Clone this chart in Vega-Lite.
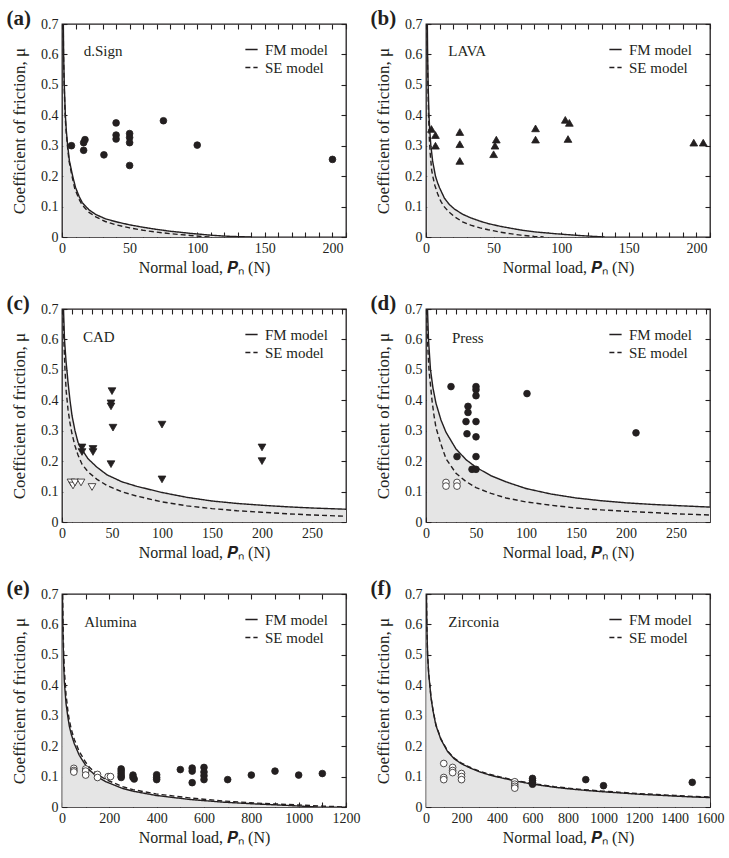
{
"$schema":"https://vega.github.io/schema/vega-lite/v6.json",
"padding":{"left":5,"top":7,"right":5,"bottom":5},
"datasets":{
"curves":[
{"p":"a","m":"FM model","x":0.9,"y":0.75},{"p":"a","m":"FM model","x":1.2,"y":0.6},{"p":"a","m":"FM model","x":1.7,"y":0.5},{"p":"a","m":"FM model","x":2.5,"y":0.4},{"p":"a","m":"FM model","x":3.2,"y":0.35},{"p":"a","m":"FM model","x":4.2,"y":0.3},{"p":"a","m":"FM model","x":5.5,"y":0.25},{"p":"a","m":"FM model","x":7.9,"y":0.2},{"p":"a","m":"FM model","x":10,"y":0.163},{"p":"a","m":"FM model","x":12.8,"y":0.132},{"p":"a","m":"FM model","x":15,"y":0.113},{"p":"a","m":"FM model","x":20,"y":0.089},{"p":"a","m":"FM model","x":25,"y":0.074},{"p":"a","m":"FM model","x":32,"y":0.06},{"p":"a","m":"FM model","x":40,"y":0.05},{"p":"a","m":"FM model","x":50,"y":0.04},{"p":"a","m":"FM model","x":60,"y":0.032},{"p":"a","m":"FM model","x":70,"y":0.025},{"p":"a","m":"FM model","x":80,"y":0.019},{"p":"a","m":"FM model","x":95,"y":0.012},{"p":"a","m":"FM model","x":110,"y":0.006},{"p":"a","m":"FM model","x":120,"y":0.003},{"p":"a","m":"FM model","x":131,"y":0.001},{"p":"a","m":"FM model","x":140,"y":0},
{"p":"a","m":"SE model","x":0.8,"y":0.75},{"p":"a","m":"SE model","x":1.1,"y":0.6},{"p":"a","m":"SE model","x":1.6,"y":0.5},{"p":"a","m":"SE model","x":2.3,"y":0.4},{"p":"a","m":"SE model","x":3,"y":0.35},{"p":"a","m":"SE model","x":4,"y":0.3},{"p":"a","m":"SE model","x":5.2,"y":0.25},{"p":"a","m":"SE model","x":7.4,"y":0.2},{"p":"a","m":"SE model","x":9.5,"y":0.158},{"p":"a","m":"SE model","x":12.8,"y":0.123},{"p":"a","m":"SE model","x":15,"y":0.105},{"p":"a","m":"SE model","x":20,"y":0.081},{"p":"a","m":"SE model","x":25,"y":0.066},{"p":"a","m":"SE model","x":32,"y":0.051},{"p":"a","m":"SE model","x":40,"y":0.04},{"p":"a","m":"SE model","x":50,"y":0.03},{"p":"a","m":"SE model","x":60,"y":0.022},{"p":"a","m":"SE model","x":70,"y":0.016},{"p":"a","m":"SE model","x":80,"y":0.011},{"p":"a","m":"SE model","x":95,"y":0.005},{"p":"a","m":"SE model","x":105,"y":0.001},{"p":"a","m":"SE model","x":110,"y":0},
{"p":"b","m":"FM model","x":0.9,"y":0.75},{"p":"b","m":"FM model","x":1.2,"y":0.6},{"p":"b","m":"FM model","x":1.6,"y":0.5},{"p":"b","m":"FM model","x":2.2,"y":0.4},{"p":"b","m":"FM model","x":2.8,"y":0.35},{"p":"b","m":"FM model","x":3.6,"y":0.3},{"p":"b","m":"FM model","x":4.9,"y":0.25},{"p":"b","m":"FM model","x":7,"y":0.2},{"p":"b","m":"FM model","x":8.6,"y":0.178},{"p":"b","m":"FM model","x":10,"y":0.162},{"p":"b","m":"FM model","x":13.6,"y":0.128},{"p":"b","m":"FM model","x":17,"y":0.108},{"p":"b","m":"FM model","x":21,"y":0.092},{"p":"b","m":"FM model","x":27,"y":0.075},{"p":"b","m":"FM model","x":33,"y":0.063},{"p":"b","m":"FM model","x":40,"y":0.052},{"p":"b","m":"FM model","x":46,"y":0.044},{"p":"b","m":"FM model","x":55,"y":0.035},{"p":"b","m":"FM model","x":70,"y":0.023},{"p":"b","m":"FM model","x":80,"y":0.017},{"p":"b","m":"FM model","x":95,"y":0.011},{"p":"b","m":"FM model","x":110,"y":0.006},{"p":"b","m":"FM model","x":120,"y":0.003},{"p":"b","m":"FM model","x":132,"y":0},
{"p":"b","m":"SE model","x":0.8,"y":0.75},{"p":"b","m":"SE model","x":1,"y":0.6},{"p":"b","m":"SE model","x":1.4,"y":0.5},{"p":"b","m":"SE model","x":1.9,"y":0.4},{"p":"b","m":"SE model","x":2.4,"y":0.33},{"p":"b","m":"SE model","x":3,"y":0.28},{"p":"b","m":"SE model","x":4.2,"y":0.22},{"p":"b","m":"SE model","x":5,"y":0.2},{"p":"b","m":"SE model","x":6.5,"y":0.17},{"p":"b","m":"SE model","x":8.6,"y":0.142},{"p":"b","m":"SE model","x":11,"y":0.117},{"p":"b","m":"SE model","x":13.6,"y":0.099},{"p":"b","m":"SE model","x":17,"y":0.082},{"p":"b","m":"SE model","x":21,"y":0.067},{"p":"b","m":"SE model","x":27,"y":0.05},{"p":"b","m":"SE model","x":33,"y":0.039},{"p":"b","m":"SE model","x":40,"y":0.03},{"p":"b","m":"SE model","x":46,"y":0.024},{"p":"b","m":"SE model","x":55,"y":0.016},{"p":"b","m":"SE model","x":62,"y":0.011},{"p":"b","m":"SE model","x":70,"y":0.006},{"p":"b","m":"SE model","x":80,"y":0.002},{"p":"b","m":"SE model","x":87,"y":0},
{"p":"c","m":"FM model","x":1.3,"y":0.75},{"p":"c","m":"FM model","x":1.5,"y":0.7},{"p":"c","m":"FM model","x":2.5,"y":0.6},{"p":"c","m":"FM model","x":4,"y":0.53},{"p":"c","m":"FM model","x":6,"y":0.46},{"p":"c","m":"FM model","x":8,"y":0.4},{"p":"c","m":"FM model","x":10,"y":0.35},{"p":"c","m":"FM model","x":13,"y":0.3},{"p":"c","m":"FM model","x":16,"y":0.262},{"p":"c","m":"FM model","x":20,"y":0.238},{"p":"c","m":"FM model","x":26,"y":0.208},{"p":"c","m":"FM model","x":35,"y":0.18},{"p":"c","m":"FM model","x":45,"y":0.155},{"p":"c","m":"FM model","x":60,"y":0.132},{"p":"c","m":"FM model","x":75,"y":0.117},{"p":"c","m":"FM model","x":100,"y":0.097},{"p":"c","m":"FM model","x":125,"y":0.081},{"p":"c","m":"FM model","x":150,"y":0.069},{"p":"c","m":"FM model","x":175,"y":0.061},{"p":"c","m":"FM model","x":200,"y":0.055},{"p":"c","m":"FM model","x":225,"y":0.05},{"p":"c","m":"FM model","x":250,"y":0.046},{"p":"c","m":"FM model","x":284,"y":0.042},
{"p":"c","m":"SE model","x":0.7,"y":0.75},{"p":"c","m":"SE model","x":1,"y":0.7},{"p":"c","m":"SE model","x":1.8,"y":0.6},{"p":"c","m":"SE model","x":3,"y":0.5},{"p":"c","m":"SE model","x":4.2,"y":0.43},{"p":"c","m":"SE model","x":6,"y":0.37},{"p":"c","m":"SE model","x":8,"y":0.325},{"p":"c","m":"SE model","x":10,"y":0.29},{"p":"c","m":"SE model","x":13,"y":0.25},{"p":"c","m":"SE model","x":16,"y":0.22},{"p":"c","m":"SE model","x":20,"y":0.19},{"p":"c","m":"SE model","x":26,"y":0.165},{"p":"c","m":"SE model","x":35,"y":0.14},{"p":"c","m":"SE model","x":45,"y":0.12},{"p":"c","m":"SE model","x":60,"y":0.099},{"p":"c","m":"SE model","x":75,"y":0.085},{"p":"c","m":"SE model","x":100,"y":0.066},{"p":"c","m":"SE model","x":125,"y":0.053},{"p":"c","m":"SE model","x":150,"y":0.044},{"p":"c","m":"SE model","x":175,"y":0.037},{"p":"c","m":"SE model","x":200,"y":0.032},{"p":"c","m":"SE model","x":225,"y":0.027},{"p":"c","m":"SE model","x":250,"y":0.023},{"p":"c","m":"SE model","x":284,"y":0.019},
{"p":"d","m":"FM model","x":1,"y":0.75},{"p":"d","m":"FM model","x":1.5,"y":0.7},{"p":"d","m":"FM model","x":2.5,"y":0.6},{"p":"d","m":"FM model","x":3.5,"y":0.55},{"p":"d","m":"FM model","x":4.5,"y":0.5},{"p":"d","m":"FM model","x":7,"y":0.44},{"p":"d","m":"FM model","x":10,"y":0.39},{"p":"d","m":"FM model","x":15,"y":0.335},{"p":"d","m":"FM model","x":20,"y":0.295},{"p":"d","m":"FM model","x":30,"y":0.24},{"p":"d","m":"FM model","x":40,"y":0.205},{"p":"d","m":"FM model","x":50,"y":0.18},{"p":"d","m":"FM model","x":65,"y":0.152},{"p":"d","m":"FM model","x":80,"y":0.132},{"p":"d","m":"FM model","x":100,"y":0.11},{"p":"d","m":"FM model","x":125,"y":0.092},{"p":"d","m":"FM model","x":150,"y":0.079},{"p":"d","m":"FM model","x":175,"y":0.07},{"p":"d","m":"FM model","x":200,"y":0.063},{"p":"d","m":"FM model","x":225,"y":0.058},{"p":"d","m":"FM model","x":250,"y":0.054},{"p":"d","m":"FM model","x":284,"y":0.049},
{"p":"d","m":"SE model","x":0.6,"y":0.75},{"p":"d","m":"SE model","x":0.8,"y":0.7},{"p":"d","m":"SE model","x":1.2,"y":0.62},{"p":"d","m":"SE model","x":2,"y":0.56},{"p":"d","m":"SE model","x":3,"y":0.5},{"p":"d","m":"SE model","x":4.5,"y":0.45},{"p":"d","m":"SE model","x":6,"y":0.4},{"p":"d","m":"SE model","x":8,"y":0.35},{"p":"d","m":"SE model","x":10,"y":0.31},{"p":"d","m":"SE model","x":15,"y":0.255},{"p":"d","m":"SE model","x":20,"y":0.208},{"p":"d","m":"SE model","x":30,"y":0.16},{"p":"d","m":"SE model","x":40,"y":0.133},{"p":"d","m":"SE model","x":50,"y":0.113},{"p":"d","m":"SE model","x":65,"y":0.094},{"p":"d","m":"SE model","x":80,"y":0.079},{"p":"d","m":"SE model","x":100,"y":0.066},{"p":"d","m":"SE model","x":125,"y":0.055},{"p":"d","m":"SE model","x":150,"y":0.046},{"p":"d","m":"SE model","x":175,"y":0.04},{"p":"d","m":"SE model","x":200,"y":0.035},{"p":"d","m":"SE model","x":225,"y":0.031},{"p":"d","m":"SE model","x":250,"y":0.027},{"p":"d","m":"SE model","x":284,"y":0.023},
{"p":"e","m":"FM model","x":1.5,"y":0.75},{"p":"e","m":"FM model","x":2,"y":0.7},{"p":"e","m":"FM model","x":4,"y":0.57},{"p":"e","m":"FM model","x":7,"y":0.47},{"p":"e","m":"FM model","x":10,"y":0.41},{"p":"e","m":"FM model","x":17,"y":0.34},{"p":"e","m":"FM model","x":25,"y":0.295},{"p":"e","m":"FM model","x":31,"y":0.265},{"p":"e","m":"FM model","x":40,"y":0.237},{"p":"e","m":"FM model","x":52,"y":0.208},{"p":"e","m":"FM model","x":73,"y":0.17},{"p":"e","m":"FM model","x":100,"y":0.137},{"p":"e","m":"FM model","x":115,"y":0.122},{"p":"e","m":"FM model","x":150,"y":0.099},{"p":"e","m":"FM model","x":186,"y":0.083},{"p":"e","m":"FM model","x":256,"y":0.061},{"p":"e","m":"FM model","x":300,"y":0.052},{"p":"e","m":"FM model","x":397,"y":0.038},{"p":"e","m":"FM model","x":537,"y":0.025},{"p":"e","m":"FM model","x":678,"y":0.016},{"p":"e","m":"FM model","x":819,"y":0.01},{"p":"e","m":"FM model","x":959,"y":0.005},{"p":"e","m":"FM model","x":1030,"y":0.002},{"p":"e","m":"FM model","x":1080,"y":0},
{"p":"e","m":"SE model","x":1.5,"y":0.75},{"p":"e","m":"SE model","x":2.5,"y":0.7},{"p":"e","m":"SE model","x":4.5,"y":0.6},{"p":"e","m":"SE model","x":7,"y":0.51},{"p":"e","m":"SE model","x":10,"y":0.45},{"p":"e","m":"SE model","x":17,"y":0.37},{"p":"e","m":"SE model","x":25,"y":0.315},{"p":"e","m":"SE model","x":31,"y":0.285},{"p":"e","m":"SE model","x":40,"y":0.253},{"p":"e","m":"SE model","x":52,"y":0.222},{"p":"e","m":"SE model","x":73,"y":0.182},{"p":"e","m":"SE model","x":100,"y":0.147},{"p":"e","m":"SE model","x":115,"y":0.131},{"p":"e","m":"SE model","x":150,"y":0.107},{"p":"e","m":"SE model","x":186,"y":0.09},{"p":"e","m":"SE model","x":256,"y":0.067},{"p":"e","m":"SE model","x":300,"y":0.057},{"p":"e","m":"SE model","x":397,"y":0.043},{"p":"e","m":"SE model","x":537,"y":0.03},{"p":"e","m":"SE model","x":678,"y":0.02},{"p":"e","m":"SE model","x":819,"y":0.013},{"p":"e","m":"SE model","x":959,"y":0.008},{"p":"e","m":"SE model","x":1100,"y":0.003},{"p":"e","m":"SE model","x":1200,"y":0},
{"p":"f","m":"FM model","x":1.5,"y":0.75},{"p":"f","m":"FM model","x":2.5,"y":0.7},{"p":"f","m":"FM model","x":5,"y":0.59},{"p":"f","m":"FM model","x":9,"y":0.5},{"p":"f","m":"FM model","x":15,"y":0.44},{"p":"f","m":"FM model","x":28,"y":0.36},{"p":"f","m":"FM model","x":40,"y":0.315},{"p":"f","m":"FM model","x":56,"y":0.268},{"p":"f","m":"FM model","x":84,"y":0.222},{"p":"f","m":"FM model","x":122,"y":0.182},{"p":"f","m":"FM model","x":160,"y":0.158},{"p":"f","m":"FM model","x":200,"y":0.142},{"p":"f","m":"FM model","x":253,"y":0.127},{"p":"f","m":"FM model","x":300,"y":0.116},{"p":"f","m":"FM model","x":348,"y":0.107},{"p":"f","m":"FM model","x":400,"y":0.099},{"p":"f","m":"FM model","x":500,"y":0.086},{"p":"f","m":"FM model","x":600,"y":0.075},{"p":"f","m":"FM model","x":723,"y":0.065},{"p":"f","m":"FM model","x":800,"y":0.06},{"p":"f","m":"FM model","x":911,"y":0.054},{"p":"f","m":"FM model","x":1000,"y":0.05},{"p":"f","m":"FM model","x":1100,"y":0.046},{"p":"f","m":"FM model","x":1200,"y":0.042},{"p":"f","m":"FM model","x":1300,"y":0.039},{"p":"f","m":"FM model","x":1400,"y":0.036},{"p":"f","m":"FM model","x":1500,"y":0.033},{"p":"f","m":"FM model","x":1600,"y":0.031},
{"p":"f","m":"SE model","x":1.5,"y":0.75},{"p":"f","m":"SE model","x":2.5,"y":0.7},{"p":"f","m":"SE model","x":5,"y":0.59},{"p":"f","m":"SE model","x":9,"y":0.5},{"p":"f","m":"SE model","x":15,"y":0.44},{"p":"f","m":"SE model","x":28,"y":0.362},{"p":"f","m":"SE model","x":40,"y":0.317},{"p":"f","m":"SE model","x":56,"y":0.27},{"p":"f","m":"SE model","x":84,"y":0.224},{"p":"f","m":"SE model","x":122,"y":0.184},{"p":"f","m":"SE model","x":160,"y":0.16},{"p":"f","m":"SE model","x":200,"y":0.144},{"p":"f","m":"SE model","x":253,"y":0.129},{"p":"f","m":"SE model","x":300,"y":0.118},{"p":"f","m":"SE model","x":348,"y":0.109},{"p":"f","m":"SE model","x":400,"y":0.101},{"p":"f","m":"SE model","x":500,"y":0.088},{"p":"f","m":"SE model","x":600,"y":0.077},{"p":"f","m":"SE model","x":723,"y":0.067},{"p":"f","m":"SE model","x":800,"y":0.062},{"p":"f","m":"SE model","x":911,"y":0.056},{"p":"f","m":"SE model","x":1000,"y":0.052},{"p":"f","m":"SE model","x":1100,"y":0.048},{"p":"f","m":"SE model","x":1200,"y":0.044},{"p":"f","m":"SE model","x":1300,"y":0.041},{"p":"f","m":"SE model","x":1400,"y":0.038},{"p":"f","m":"SE model","x":1500,"y":0.035},{"p":"f","m":"SE model","x":1600,"y":0.033}
],
"points":[
{"p":"a","k":"filled","x":7,"y":0.30},{"p":"a","k":"filled","x":16,"y":0.31},{"p":"a","k":"filled","x":17,"y":0.32},{"p":"a","k":"filled","x":16,"y":0.285},{"p":"a","k":"filled","x":31,"y":0.27},{"p":"a","k":"filled","x":40,"y":0.375},{"p":"a","k":"filled","x":40,"y":0.335},{"p":"a","k":"filled","x":40,"y":0.322},{"p":"a","k":"filled","x":50,"y":0.34},{"p":"a","k":"filled","x":50,"y":0.327},{"p":"a","k":"filled","x":50,"y":0.31},{"p":"a","k":"filled","x":50,"y":0.235},{"p":"a","k":"filled","x":75,"y":0.382},{"p":"a","k":"filled","x":100,"y":0.302},{"p":"a","k":"filled","x":200,"y":0.255},
{"p":"b","k":"filled","x":4,"y":0.355},{"p":"b","k":"filled","x":7,"y":0.335},{"p":"b","k":"filled","x":7,"y":0.30},{"p":"b","k":"filled","x":25,"y":0.345},{"p":"b","k":"filled","x":25,"y":0.305},{"p":"b","k":"filled","x":25,"y":0.25},{"p":"b","k":"filled","x":52,"y":0.32},{"p":"b","k":"filled","x":51,"y":0.30},{"p":"b","k":"filled","x":50,"y":0.272},{"p":"b","k":"filled","x":81,"y":0.357},{"p":"b","k":"filled","x":81,"y":0.32},{"p":"b","k":"filled","x":103,"y":0.385},{"p":"b","k":"filled","x":106,"y":0.375},{"p":"b","k":"filled","x":105,"y":0.322},{"p":"b","k":"filled","x":198,"y":0.31},{"p":"b","k":"filled","x":205,"y":0.31},
{"p":"c","k":"filled","x":20,"y":0.245},{"p":"c","k":"filled","x":20,"y":0.23},{"p":"c","k":"filled","x":31,"y":0.24},{"p":"c","k":"filled","x":31,"y":0.23},{"p":"c","k":"filled","x":50,"y":0.43},{"p":"c","k":"filled","x":49,"y":0.39},{"p":"c","k":"filled","x":49,"y":0.38},{"p":"c","k":"filled","x":51,"y":0.31},{"p":"c","k":"filled","x":49,"y":0.19},{"p":"c","k":"filled","x":100,"y":0.32},{"p":"c","k":"filled","x":100,"y":0.14},{"p":"c","k":"filled","x":200,"y":0.245},{"p":"c","k":"filled","x":200,"y":0.2},
{"p":"c","k":"open","x":9,"y":0.13},{"p":"c","k":"open","x":11,"y":0.12},{"p":"c","k":"open","x":13,"y":0.13},{"p":"c","k":"open","x":19,"y":0.13},{"p":"c","k":"open","x":30,"y":0.115},
{"p":"d","k":"filled","x":25,"y":0.445},{"p":"d","k":"filled","x":31,"y":0.215},{"p":"d","k":"filled","x":42,"y":0.38},{"p":"d","k":"filled","x":42,"y":0.36},{"p":"d","k":"filled","x":40,"y":0.33},{"p":"d","k":"filled","x":41,"y":0.29},{"p":"d","k":"filled","x":50,"y":0.445},{"p":"d","k":"filled","x":50,"y":0.435},{"p":"d","k":"filled","x":50,"y":0.415},{"p":"d","k":"filled","x":50,"y":0.33},{"p":"d","k":"filled","x":50,"y":0.28},{"p":"d","k":"filled","x":50,"y":0.215},{"p":"d","k":"filled","x":46,"y":0.173},{"p":"d","k":"filled","x":50,"y":0.173},{"p":"d","k":"filled","x":101,"y":0.422},{"p":"d","k":"filled","x":210,"y":0.293},
{"p":"d","k":"open","x":20,"y":0.13},{"p":"d","k":"open","x":20,"y":0.118},{"p":"d","k":"open","x":31,"y":0.13},{"p":"d","k":"open","x":31,"y":0.118},
{"p":"e","k":"filled","x":250,"y":0.125},{"p":"e","k":"filled","x":250,"y":0.118},{"p":"e","k":"filled","x":250,"y":0.11},{"p":"e","k":"filled","x":250,"y":0.102},{"p":"e","k":"filled","x":250,"y":0.097},{"p":"e","k":"filled","x":300,"y":0.105},{"p":"e","k":"filled","x":300,"y":0.097},{"p":"e","k":"filled","x":305,"y":0.092},{"p":"e","k":"filled","x":400,"y":0.106},{"p":"e","k":"filled","x":400,"y":0.097},{"p":"e","k":"filled","x":400,"y":0.09},{"p":"e","k":"filled","x":500,"y":0.123},{"p":"e","k":"filled","x":550,"y":0.128},{"p":"e","k":"filled","x":550,"y":0.118},{"p":"e","k":"filled","x":550,"y":0.08},{"p":"e","k":"filled","x":600,"y":0.13},{"p":"e","k":"filled","x":600,"y":0.115},{"p":"e","k":"filled","x":600,"y":0.103},{"p":"e","k":"filled","x":600,"y":0.09},{"p":"e","k":"filled","x":700,"y":0.09},{"p":"e","k":"filled","x":800,"y":0.105},{"p":"e","k":"filled","x":900,"y":0.118},{"p":"e","k":"filled","x":1000,"y":0.105},{"p":"e","k":"filled","x":1100,"y":0.11},
{"p":"e","k":"open","x":50,"y":0.127},{"p":"e","k":"open","x":50,"y":0.12},{"p":"e","k":"open","x":50,"y":0.115},{"p":"e","k":"open","x":100,"y":0.125},{"p":"e","k":"open","x":100,"y":0.118},{"p":"e","k":"open","x":100,"y":0.105},{"p":"e","k":"open","x":150,"y":0.107},{"p":"e","k":"open","x":150,"y":0.097},{"p":"e","k":"open","x":195,"y":0.1},{"p":"e","k":"open","x":205,"y":0.1},
{"p":"f","k":"open","x":100,"y":0.143},{"p":"f","k":"open","x":100,"y":0.097},{"p":"f","k":"open","x":100,"y":0.09},{"p":"f","k":"open","x":150,"y":0.13},{"p":"f","k":"open","x":150,"y":0.12},{"p":"f","k":"open","x":150,"y":0.113},{"p":"f","k":"open","x":200,"y":0.11},{"p":"f","k":"open","x":200,"y":0.1},{"p":"f","k":"open","x":200,"y":0.09},{"p":"f","k":"open","x":500,"y":0.083},{"p":"f","k":"open","x":500,"y":0.075},{"p":"f","k":"open","x":500,"y":0.068},{"p":"f","k":"open","x":500,"y":0.062},
{"p":"f","k":"filled","x":600,"y":0.094},{"p":"f","k":"filled","x":600,"y":0.087},{"p":"f","k":"filled","x":600,"y":0.08},{"p":"f","k":"filled","x":600,"y":0.075},{"p":"f","k":"filled","x":900,"y":0.09},{"p":"f","k":"filled","x":1000,"y":0.07},{"p":"f","k":"filled","x":1500,"y":0.081}
],
"labels":[
{"p":"a","x":16,"y":0.61,"t":"d.Sign"},{"p":"b","x":16.5,"y":0.61,"t":"LAVA"},{"p":"c","x":21,"y":0.607,"t":"CAD"},{"p":"d","x":26,"y":0.606,"t":"Press"},{"p":"e","x":94,"y":0.609,"t":"Alumina"},{"p":"f","x":126,"y":0.609,"t":"Zirconia"}
]
},
"config":{
"font":"Liberation Serif",
"view":{"stroke":"#231f20","strokeWidth":1.3},
"axis":{"grid":false,"domain":false,"tickColor":"#231f20","tickWidth":1.1,"tickSize":-5,"labelColor":"#231f20","titleColor":"#231f20","labelFontSize":14,"titleFontSize":17,"titleFontWeight":"normal","labelOverlap":false,"labelFlush":false,"labelPadding":9,"labelFont":"Liberation Serif","titleFont":"Liberation Serif"},
"axisBottom":{"titleFontSize":16},
"legend":{"orient":"top-right","offset":18,"symbolType":"stroke","symbolStrokeWidth":1.4,"symbolStrokeColor":"#231f20","symbolSize":150,"labelFontSize":15,"labelFont":"Liberation Serif","labelColor":"#231f20","rowPadding":2,"labelOffset":6,"padding":0},
"title":{"anchor":"start","frame":"bounds","fontSize":21,"fontWeight":"bold","color":"#231f20","font":"Liberation Serif","dy":16,"dx":-4}
},
"bounds":"flush",
"columns":2,
"spacing":{"row":72,"column":80},
"resolve":{"scale":{"strokeDash":"independent"},"legend":{"strokeDash":"independent"}},
"concat":[
{"width":284,"height":213,"title":{"text":"(a)"},
"layer":[
{"data":{"name":"curves"},"transform":[{"filter":"datum.p==='a' && datum.m==='FM model'"}],"mark":{"type":"area","color":"#e5e5e5","clip":true},
"encoding":{"x":{"field":"x","type":"quantitative","scale":{"domain":[0,210],"nice":false},"axis":{"orient":"bottom","values":[0,10,20,30,40,50,60,70,80,90,100,110,120,130,140,150,160,170,180,190,200,210],"labelExpr":"datum.value % 50 === 0 ? datum.label : ''","format":"d","title":"Normal load, 𝑷ₙ (N)","titlePadding":4}},
"y":{"field":"y","type":"quantitative","scale":{"domain":[0,0.7],"nice":false},"axis":{"orient":"left","values":[0,0.1,0.2,0.3,0.4,0.5,0.6,0.7],"labelExpr":"datum.value === 0 ? '0' : format(datum.value, '.1f')","title":"Coefficient of friction, μ","titlePadding":12}}}},
{"data":{"name":"curves"},"transform":[{"filter":"datum.p==='a'"}],"mark":{"type":"line","color":"#231f20","strokeWidth":1.4,"clip":true},
"encoding":{"x":{"field":"x","type":"quantitative","axis":{"orient":"top","values":[0,10,20,30,40,50,60,70,80,90,100,110,120,130,140,150,160,170,180,190,200,210],"labels":false,"title":null}},
"y":{"field":"y","type":"quantitative","axis":{"orient":"right","values":[0,0.1,0.2,0.3,0.4,0.5,0.6,0.7],"labels":false,"title":null}},
"strokeDash":{"field":"m","type":"nominal","scale":{"domain":["FM model","SE model"],"range":[[1,0],[5,3]]},"legend":{"title":null}}}},
{"data":{"name":"points"},"transform":[{"filter":"datum.p==='a'"}],"mark":{"type":"point","shape":"circle","filled":true,"size":45,"stroke":"#231f20","strokeWidth":0.8,"opacity":1},
"encoding":{"x":{"field":"x","type":"quantitative","axis":null},"y":{"field":"y","type":"quantitative","axis":null},"fill":{"field":"k","type":"nominal","scale":{"domain":["filled","open"],"range":["#231f20","#ffffff"]},"legend":null}}},
{"data":{"name":"labels"},"transform":[{"filter":"datum.p==='a'"}],"mark":{"type":"text","align":"left","baseline":"middle","fontSize":15,"color":"#231f20"},
"encoding":{"x":{"field":"x","type":"quantitative","axis":null},"y":{"field":"y","type":"quantitative","axis":null},"text":{"field":"t"}}}
]},
{"width":284,"height":213,"title":{"text":"(b)"},
"layer":[
{"data":{"name":"curves"},"transform":[{"filter":"datum.p==='b' && datum.m==='FM model'"}],"mark":{"type":"area","color":"#e5e5e5","clip":true},
"encoding":{"x":{"field":"x","type":"quantitative","scale":{"domain":[0,210],"nice":false},"axis":{"orient":"bottom","values":[0,10,20,30,40,50,60,70,80,90,100,110,120,130,140,150,160,170,180,190,200,210],"labelExpr":"datum.value % 50 === 0 ? datum.label : ''","format":"d","title":"Normal load, 𝑷ₙ (N)","titlePadding":4}},
"y":{"field":"y","type":"quantitative","scale":{"domain":[0,0.7],"nice":false},"axis":{"orient":"left","values":[0,0.1,0.2,0.3,0.4,0.5,0.6,0.7],"labelExpr":"datum.value === 0 ? '0' : format(datum.value, '.1f')","title":"Coefficient of friction, μ","titlePadding":12}}}},
{"data":{"name":"curves"},"transform":[{"filter":"datum.p==='b'"}],"mark":{"type":"line","color":"#231f20","strokeWidth":1.4,"clip":true},
"encoding":{"x":{"field":"x","type":"quantitative","axis":{"orient":"top","values":[0,10,20,30,40,50,60,70,80,90,100,110,120,130,140,150,160,170,180,190,200,210],"labels":false,"title":null}},
"y":{"field":"y","type":"quantitative","axis":{"orient":"right","values":[0,0.1,0.2,0.3,0.4,0.5,0.6,0.7],"labels":false,"title":null}},
"strokeDash":{"field":"m","type":"nominal","scale":{"domain":["FM model","SE model"],"range":[[1,0],[5,3]]},"legend":{"title":null}}}},
{"data":{"name":"points"},"transform":[{"filter":"datum.p==='b'"}],"mark":{"type":"point","shape":"triangle-up","filled":true,"size":60,"stroke":"#231f20","strokeWidth":0.8,"opacity":1},
"encoding":{"x":{"field":"x","type":"quantitative","axis":null},"y":{"field":"y","type":"quantitative","axis":null},"fill":{"field":"k","type":"nominal","scale":{"domain":["filled","open"],"range":["#231f20","#ffffff"]},"legend":null}}},
{"data":{"name":"labels"},"transform":[{"filter":"datum.p==='b'"}],"mark":{"type":"text","align":"left","baseline":"middle","fontSize":15,"color":"#231f20"},
"encoding":{"x":{"field":"x","type":"quantitative","axis":null},"y":{"field":"y","type":"quantitative","axis":null},"text":{"field":"t"}}}
]},
{"width":284,"height":213,"title":{"text":"(c)"},
"layer":[
{"data":{"name":"curves"},"transform":[{"filter":"datum.p==='c' && datum.m==='FM model'"}],"mark":{"type":"area","color":"#e5e5e5","clip":true},
"encoding":{"x":{"field":"x","type":"quantitative","scale":{"domain":[0,284],"nice":false},"axis":{"orient":"bottom","values":[0,10,20,30,40,50,60,70,80,90,100,110,120,130,140,150,160,170,180,190,200,210,220,230,240,250,260,270,280],"labelExpr":"datum.value % 50 === 0 ? datum.label : ''","format":"d","title":"Normal load, 𝑷ₙ (N)","titlePadding":4}},
"y":{"field":"y","type":"quantitative","scale":{"domain":[0,0.7],"nice":false},"axis":{"orient":"left","values":[0,0.1,0.2,0.3,0.4,0.5,0.6,0.7],"labelExpr":"datum.value === 0 ? '0' : format(datum.value, '.1f')","title":"Coefficient of friction, μ","titlePadding":12}}}},
{"data":{"name":"curves"},"transform":[{"filter":"datum.p==='c'"}],"mark":{"type":"line","color":"#231f20","strokeWidth":1.4,"clip":true},
"encoding":{"x":{"field":"x","type":"quantitative","axis":{"orient":"top","values":[0,10,20,30,40,50,60,70,80,90,100,110,120,130,140,150,160,170,180,190,200,210,220,230,240,250,260,270,280],"labels":false,"title":null}},
"y":{"field":"y","type":"quantitative","axis":{"orient":"right","values":[0,0.1,0.2,0.3,0.4,0.5,0.6,0.7],"labels":false,"title":null}},
"strokeDash":{"field":"m","type":"nominal","scale":{"domain":["FM model","SE model"],"range":[[1,0],[5,3]]},"legend":{"title":null}}}},
{"data":{"name":"points"},"transform":[{"filter":"datum.p==='c'"}],"mark":{"type":"point","shape":"triangle-down","filled":true,"size":60,"stroke":"#231f20","strokeWidth":0.8,"opacity":1},
"encoding":{"x":{"field":"x","type":"quantitative","axis":null},"y":{"field":"y","type":"quantitative","axis":null},"fill":{"field":"k","type":"nominal","scale":{"domain":["filled","open"],"range":["#231f20","#ffffff"]},"legend":null}}},
{"data":{"name":"labels"},"transform":[{"filter":"datum.p==='c'"}],"mark":{"type":"text","align":"left","baseline":"middle","fontSize":15,"color":"#231f20"},
"encoding":{"x":{"field":"x","type":"quantitative","axis":null},"y":{"field":"y","type":"quantitative","axis":null},"text":{"field":"t"}}}
]},
{"width":284,"height":213,"title":{"text":"(d)"},
"layer":[
{"data":{"name":"curves"},"transform":[{"filter":"datum.p==='d' && datum.m==='FM model'"}],"mark":{"type":"area","color":"#e5e5e5","clip":true},
"encoding":{"x":{"field":"x","type":"quantitative","scale":{"domain":[0,284],"nice":false},"axis":{"orient":"bottom","values":[0,10,20,30,40,50,60,70,80,90,100,110,120,130,140,150,160,170,180,190,200,210,220,230,240,250,260,270,280],"labelExpr":"datum.value % 50 === 0 ? datum.label : ''","format":"d","title":"Normal load, 𝑷ₙ (N)","titlePadding":4}},
"y":{"field":"y","type":"quantitative","scale":{"domain":[0,0.7],"nice":false},"axis":{"orient":"left","values":[0,0.1,0.2,0.3,0.4,0.5,0.6,0.7],"labelExpr":"datum.value === 0 ? '0' : format(datum.value, '.1f')","title":"Coefficient of friction, μ","titlePadding":12}}}},
{"data":{"name":"curves"},"transform":[{"filter":"datum.p==='d'"}],"mark":{"type":"line","color":"#231f20","strokeWidth":1.4,"clip":true},
"encoding":{"x":{"field":"x","type":"quantitative","axis":{"orient":"top","values":[0,10,20,30,40,50,60,70,80,90,100,110,120,130,140,150,160,170,180,190,200,210,220,230,240,250,260,270,280],"labels":false,"title":null}},
"y":{"field":"y","type":"quantitative","axis":{"orient":"right","values":[0,0.1,0.2,0.3,0.4,0.5,0.6,0.7],"labels":false,"title":null}},
"strokeDash":{"field":"m","type":"nominal","scale":{"domain":["FM model","SE model"],"range":[[1,0],[5,3]]},"legend":{"title":null}}}},
{"data":{"name":"points"},"transform":[{"filter":"datum.p==='d'"}],"mark":{"type":"point","shape":"circle","filled":true,"size":45,"stroke":"#231f20","strokeWidth":0.8,"opacity":1},
"encoding":{"x":{"field":"x","type":"quantitative","axis":null},"y":{"field":"y","type":"quantitative","axis":null},"fill":{"field":"k","type":"nominal","scale":{"domain":["filled","open"],"range":["#231f20","#ffffff"]},"legend":null}}},
{"data":{"name":"labels"},"transform":[{"filter":"datum.p==='d'"}],"mark":{"type":"text","align":"left","baseline":"middle","fontSize":15,"color":"#231f20"},
"encoding":{"x":{"field":"x","type":"quantitative","axis":null},"y":{"field":"y","type":"quantitative","axis":null},"text":{"field":"t"}}}
]},
{"width":284,"height":213,"title":{"text":"(e)"},
"layer":[
{"data":{"name":"curves"},"transform":[{"filter":"datum.p==='e' && datum.m==='FM model'"}],"mark":{"type":"area","color":"#e5e5e5","clip":true},
"encoding":{"x":{"field":"x","type":"quantitative","scale":{"domain":[0,1200],"nice":false},"axis":{"orient":"bottom","values":[0,100,200,300,400,500,600,700,800,900,1000,1100,1200],"labelExpr":"datum.value % 200 === 0 ? datum.label : ''","format":"d","title":"Normal load, 𝑷ₙ (N)","titlePadding":4}},
"y":{"field":"y","type":"quantitative","scale":{"domain":[0,0.7],"nice":false},"axis":{"orient":"left","values":[0,0.1,0.2,0.3,0.4,0.5,0.6,0.7],"labelExpr":"datum.value === 0 ? '0' : format(datum.value, '.1f')","title":"Coefficient of friction, μ","titlePadding":12}}}},
{"data":{"name":"curves"},"transform":[{"filter":"datum.p==='e'"}],"mark":{"type":"line","color":"#231f20","strokeWidth":1.4,"clip":true},
"encoding":{"x":{"field":"x","type":"quantitative","axis":{"orient":"top","values":[0,100,200,300,400,500,600,700,800,900,1000,1100,1200],"labels":false,"title":null}},
"y":{"field":"y","type":"quantitative","axis":{"orient":"right","values":[0,0.1,0.2,0.3,0.4,0.5,0.6,0.7],"labels":false,"title":null}},
"strokeDash":{"field":"m","type":"nominal","scale":{"domain":["FM model","SE model"],"range":[[1,0],[5,3]]},"legend":{"title":null}}}},
{"data":{"name":"points"},"transform":[{"filter":"datum.p==='e'"}],"mark":{"type":"point","shape":"circle","filled":true,"size":45,"stroke":"#231f20","strokeWidth":0.8,"opacity":1},
"encoding":{"x":{"field":"x","type":"quantitative","axis":null},"y":{"field":"y","type":"quantitative","axis":null},"fill":{"field":"k","type":"nominal","scale":{"domain":["filled","open"],"range":["#231f20","#ffffff"]},"legend":null}}},
{"data":{"name":"labels"},"transform":[{"filter":"datum.p==='e'"}],"mark":{"type":"text","align":"left","baseline":"middle","fontSize":15,"color":"#231f20"},
"encoding":{"x":{"field":"x","type":"quantitative","axis":null},"y":{"field":"y","type":"quantitative","axis":null},"text":{"field":"t"}}}
]},
{"width":284,"height":213,"title":{"text":"(f)"},
"layer":[
{"data":{"name":"curves"},"transform":[{"filter":"datum.p==='f' && datum.m==='FM model'"}],"mark":{"type":"area","color":"#e5e5e5","clip":true},
"encoding":{"x":{"field":"x","type":"quantitative","scale":{"domain":[0,1600],"nice":false},"axis":{"orient":"bottom","values":[0,100,200,300,400,500,600,700,800,900,1000,1100,1200,1300,1400,1500,1600],"labelExpr":"datum.value % 200 === 0 ? datum.label : ''","format":"d","title":"Normal load, 𝑷ₙ (N)","titlePadding":4}},
"y":{"field":"y","type":"quantitative","scale":{"domain":[0,0.7],"nice":false},"axis":{"orient":"left","values":[0,0.1,0.2,0.3,0.4,0.5,0.6,0.7],"labelExpr":"datum.value === 0 ? '0' : format(datum.value, '.1f')","title":"Coefficient of friction, μ","titlePadding":12}}}},
{"data":{"name":"curves"},"transform":[{"filter":"datum.p==='f'"}],"mark":{"type":"line","color":"#231f20","strokeWidth":1.4,"clip":true},
"encoding":{"x":{"field":"x","type":"quantitative","axis":{"orient":"top","values":[0,100,200,300,400,500,600,700,800,900,1000,1100,1200,1300,1400,1500,1600],"labels":false,"title":null}},
"y":{"field":"y","type":"quantitative","axis":{"orient":"right","values":[0,0.1,0.2,0.3,0.4,0.5,0.6,0.7],"labels":false,"title":null}},
"strokeDash":{"field":"m","type":"nominal","scale":{"domain":["FM model","SE model"],"range":[[1,0],[5,3]]},"legend":{"title":null}}}},
{"data":{"name":"points"},"transform":[{"filter":"datum.p==='f'"}],"mark":{"type":"point","shape":"circle","filled":true,"size":45,"stroke":"#231f20","strokeWidth":0.8,"opacity":1},
"encoding":{"x":{"field":"x","type":"quantitative","axis":null},"y":{"field":"y","type":"quantitative","axis":null},"fill":{"field":"k","type":"nominal","scale":{"domain":["filled","open"],"range":["#231f20","#ffffff"]},"legend":null}}},
{"data":{"name":"labels"},"transform":[{"filter":"datum.p==='f'"}],"mark":{"type":"text","align":"left","baseline":"middle","fontSize":15,"color":"#231f20"},
"encoding":{"x":{"field":"x","type":"quantitative","axis":null},"y":{"field":"y","type":"quantitative","axis":null},"text":{"field":"t"}}}
]}
]
}
